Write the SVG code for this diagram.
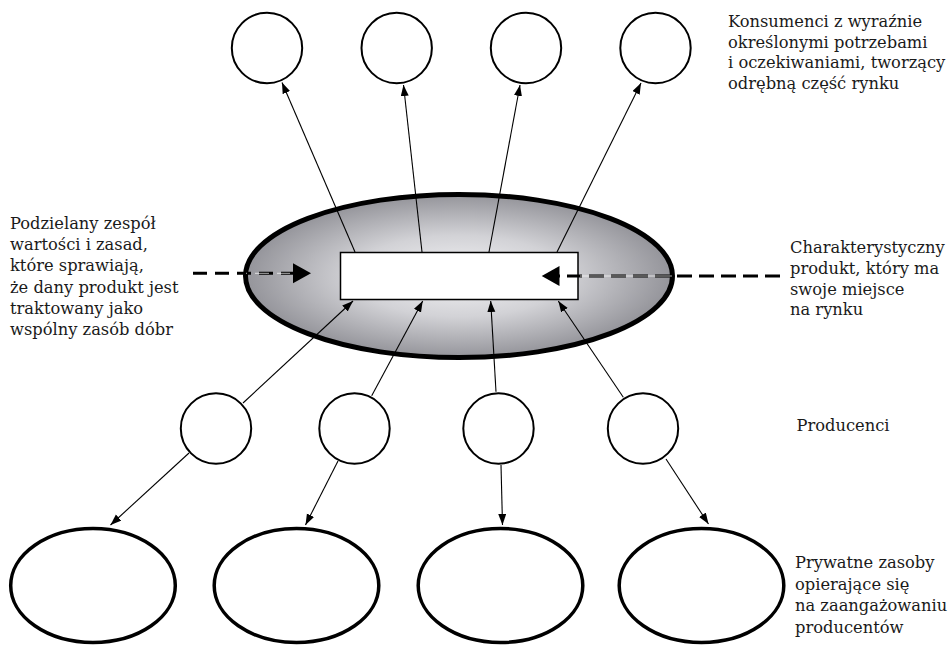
<svg xmlns="http://www.w3.org/2000/svg" width="949" height="645" viewBox="0 0 949 645">
<style>
.t{font-family:"DejaVu Serif","Liberation Serif",serif;font-size:16.3px;fill:#1a1a1a}
.c{fill:#fff;stroke:#000;stroke-width:2}
.b{fill:#fff;stroke:#000;stroke-width:3.5}
.a{stroke:#000;stroke-width:1.1;fill:none;marker-end:url(#ah)}
.d{stroke:#000;stroke-width:3;fill:none}
</style>
<defs>
<radialGradient id="g" cx="50%" cy="50%" r="50%">
<stop offset="0" stop-color="#f4f4f6"/>
<stop offset="0.5" stop-color="#d2d2d6"/>
<stop offset="1" stop-color="#94949a"/>
</radialGradient>
<marker id="ah" markerUnits="userSpaceOnUse" markerWidth="12" markerHeight="9" refX="11" refY="4" orient="auto">
<path d="M0,0 L11,4 L0,8 z" fill="#000"/>
</marker>
</defs>
<g id="market">
<ellipse cx="459" cy="276" rx="213.5" ry="81.6" fill="url(#g)" stroke="#000" stroke-width="5"/>
</g>
<g id="product">
<rect x="340.5" y="252.5" width="237.5" height="47" fill="#fff" stroke="#000" stroke-width="1.5"/>
</g>
<g id="consumers">
<circle class="c" cx="267" cy="48" r="35.2"/>
<circle class="c" cx="396.7" cy="48" r="35.2"/>
<circle class="c" cx="526" cy="48" r="35.2"/>
<circle class="c" cx="655.5" cy="48" r="35.2"/>
</g>
<g id="producers">
<circle class="c" cx="216" cy="428.5" r="35.2"/>
<circle class="c" cx="354.5" cy="428.5" r="35.2"/>
<circle class="c" cx="498.5" cy="428.5" r="35.2"/>
<circle class="c" cx="643" cy="428.5" r="35.2"/>
</g>
<g id="resources">
<ellipse class="b" cx="93" cy="585.5" rx="82.3" ry="57"/>
<ellipse class="b" cx="296.5" cy="585.5" rx="82.3" ry="57"/>
<ellipse class="b" cx="500.5" cy="585.5" rx="82.3" ry="57"/>
<ellipse class="b" cx="701.5" cy="585.5" rx="82.3" ry="57"/>
</g>
<g id="connectors">
<line class="a" x1="355" y1="252" x2="282" y2="82.5"/>
<line class="a" x1="422" y1="252" x2="403.5" y2="85"/>
<line class="a" x1="489" y1="252" x2="520" y2="85"/>
<line class="a" x1="557" y1="252" x2="641" y2="83"/>
<line class="a" x1="243" y1="403" x2="353" y2="301"/>
<line class="a" x1="371.7" y1="395.7" x2="422.7" y2="301"/>
<line class="a" x1="496" y1="391.7" x2="490.7" y2="301"/>
<line class="a" x1="623.3" y1="397.3" x2="558.3" y2="301"/>
<line class="a" x1="189" y1="453" x2="110.5" y2="525"/>
<line class="a" x1="338" y1="461" x2="305.5" y2="525"/>
<line class="a" x1="501" y1="465" x2="502.5" y2="525"/>
<line class="a" x1="666" y1="459" x2="708.5" y2="524"/>
<path class="d" d="M193,273.3 H294" stroke-dasharray="14 8"/>
<path d="M246,273.3 H290" stroke="#fff" stroke-width="0.7" stroke-dasharray="14 8" stroke-dashoffset="-53"/>
<path d="M293,263.3 L311,273.3 L293,283.3 z" fill="#000"/>
<path class="d" d="M780,276 H559" stroke-dasharray="15 7"/>
<path d="M672,276 H580" stroke="#fff" stroke-width="0.7"/>
<path d="M559.5,266 L541.7,276 L559.5,286 z" fill="#000"/>
</g>
<g id="labels">
<text class="t" x="728" y="27">Konsumenci z wyraźnie</text>
<text class="t" x="728" y="47.5">określonymi potrzebami</text>
<text class="t" x="728" y="68">i oczekiwaniami, tworzący</text>
<text class="t" x="728" y="88.5">odrębną część rynku</text>
<text class="t" x="10" y="229">Podzielany zespół</text>
<text class="t" x="10" y="250.2">wartości  i zasad,</text>
<text class="t" x="10" y="271.4">które sprawiają,</text>
<text class="t" x="10" y="292.6">że dany produkt jest</text>
<text class="t" x="10" y="313.8">traktowany jako</text>
<text class="t" x="10" y="335">wspólny zasób dóbr</text>
<text class="t" x="790" y="253">Charakterystyczny</text>
<text class="t" x="790" y="274">produkt, który ma</text>
<text class="t" x="790" y="294.5">swoje miejsce</text>
<text class="t" x="790" y="315">na rynku</text>
<text class="t" x="796.5" y="431">Producenci</text>
<text class="t" x="795" y="568">Prywatne zasoby</text>
<text class="t" x="795" y="589.5">opierające się</text>
<text class="t" x="795" y="611">na zaangażowaniu</text>
<text class="t" x="795" y="632.5">producentów</text>
</g>
</svg>
